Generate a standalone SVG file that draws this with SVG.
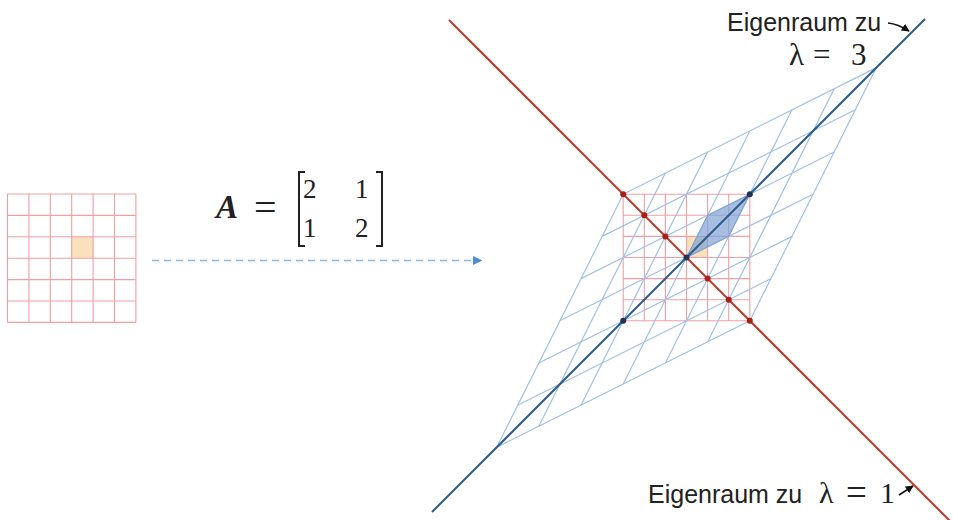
<svg xmlns="http://www.w3.org/2000/svg" width="953" height="520" viewBox="0 0 953 520">
<style>
.rg{stroke:#f29ea2;stroke-width:1.1;fill:none}
.bg{stroke:#9fc1e8;stroke-width:1.2;fill:none}
.sans{font-family:"Liberation Sans",Arial,sans-serif;fill:#222}
.serif{font-family:"Liberation Serif","Times New Roman",serif;fill:#222}
.rd{fill:#a8201a}
.bd{fill:#1d3557}
.lbl{stroke:#111;stroke-width:1.6;fill:none}
</style>
<defs>
<marker id="ah" viewBox="0 0 10 10" refX="9" refY="5" markerWidth="5" markerHeight="5" orient="auto">
<path d="M0,0 L10,5 L0,10 z" fill="#111"/>
</marker>
</defs>
<rect width="953" height="520" fill="#fff"/>

<g id="source-grid">
<rect x="71.7" y="236.8" width="21.4" height="21.4" fill="#fbe0bd"/>
<path class="rg" d="M7.5,194V322.4M28.9,194V322.4M50.3,194V322.4M71.7,194V322.4M93.1,194V322.4M114.5,194V322.4M135.9,194V322.4M7.5,194H135.9M7.5,215.4H135.9M7.5,236.8H135.9M7.5,258.2H135.9M7.5,279.6H135.9M7.5,301H135.9M7.5,322.4H135.9"/>
</g>

<g id="matrix">
<text class="serif" x="216" y="218" font-size="33" font-weight="bold" font-style="italic">A</text>
<text class="serif" x="254" y="221" font-size="40">=</text>
<path d="M305,172 H299 V246 H305 M376,172 H382 V246 H376" stroke="#222" stroke-width="2" fill="none"/>
<text class="serif" x="303" y="198" font-size="27">2</text>
<text class="serif" x="355" y="198" font-size="27">1</text>
<text class="serif" x="303" y="237" font-size="27">1</text>
<text class="serif" x="355" y="237" font-size="27">2</text>
</g>

<g id="target-grid">
<rect x="686.5" y="236.4" width="21.1" height="21.1" fill="#fbe0bd"/>
<path class="rg" d="M623.2,194.2V320.8M644.3,194.2V320.8M665.4,194.2V320.8M686.5,194.2V320.8M707.6,194.2V320.8M728.7,194.2V320.8M749.8,194.2V320.8M623.2,194.2H749.8M623.2,215.3H749.8M623.2,236.4H749.8M623.2,257.5H749.8M623.2,278.6H749.8M623.2,299.7H749.8M623.2,320.8H749.8"/>
<path class="bg" d="M496.6,447.4L623.2,194.2M538.8,426.3L665.4,173.1M581,405.2L707.6,152M623.2,384.1L749.8,130.9M665.4,363L792,109.8M707.6,341.9L834.2,88.7M749.8,320.8L876.4,67.6"/>
<path class="bg" d="M496.6,447.4L749.8,320.8M517.7,405.2L770.9,278.6M538.8,363L792,236.4M559.9,320.8L813.1,194.2M581,278.6L834.2,152M602.1,236.4L855.3,109.8M623.2,194.2L876.4,67.6"/>
<path d="M686.5,257.5 L728.7,236.4 L749.8,194.2 L707.6,215.3 Z" fill="#7fa3d6" fill-opacity="0.7" stroke="#7fa3d6" stroke-width="1"/>
</g>

<g id="eigenspace-1">
<line x1="449" y1="20" x2="955" y2="526" stroke="#c0392b" stroke-width="2"/>
<circle class="rd" cx="623.2" cy="194.2" r="3"/>
<circle class="rd" cx="644.3" cy="215.3" r="3"/>
<circle class="rd" cx="665.4" cy="236.4" r="3"/>
<circle class="rd" cx="707.6" cy="278.6" r="3"/>
<circle class="rd" cx="728.7" cy="299.7" r="3"/>
<circle class="rd" cx="749.8" cy="320.8" r="3"/>
</g>

<g id="eigenspace-3">
<line x1="432" y1="512" x2="925" y2="19" stroke="#2e5b85" stroke-width="2"/>
<circle class="bd" cx="749.8" cy="194.2" r="3"/>
<circle class="bd" cx="623.2" cy="320.8" r="3"/>
<circle class="bd" cx="686.5" cy="257.5" r="3"/>
</g>

<g id="label-3">
<text class="sans" x="727" y="31" font-size="25">Eigenraum zu</text>
<text class="serif" x="789" y="65" font-size="31">λ<tspan x="813">=</tspan><tspan x="851">3</tspan></text>
</g>

<g id="label-1">
<text class="sans" x="648" y="503" font-size="25">Eigenraum zu</text>
<text class="serif" x="819" y="503" font-size="30">λ<tspan x="846" y="505" font-size="37">=</tspan><tspan x="880" y="503">1</tspan></text>
</g>

<g id="connectors">
<line x1="152" y1="260.5" x2="474" y2="260.5" stroke="#8fb4e0" stroke-width="1.3" stroke-dasharray="7 5"/>
<path d="M473,256 L482.5,260.5 L473,265 Z" fill="#4a8fd6"/>
<path class="lbl" d="M888,23 Q898,24 909,31" marker-end="url(#ah)"/>
<path class="lbl" d="M899,495 L913,486" marker-end="url(#ah)"/>
</g>
</svg>
